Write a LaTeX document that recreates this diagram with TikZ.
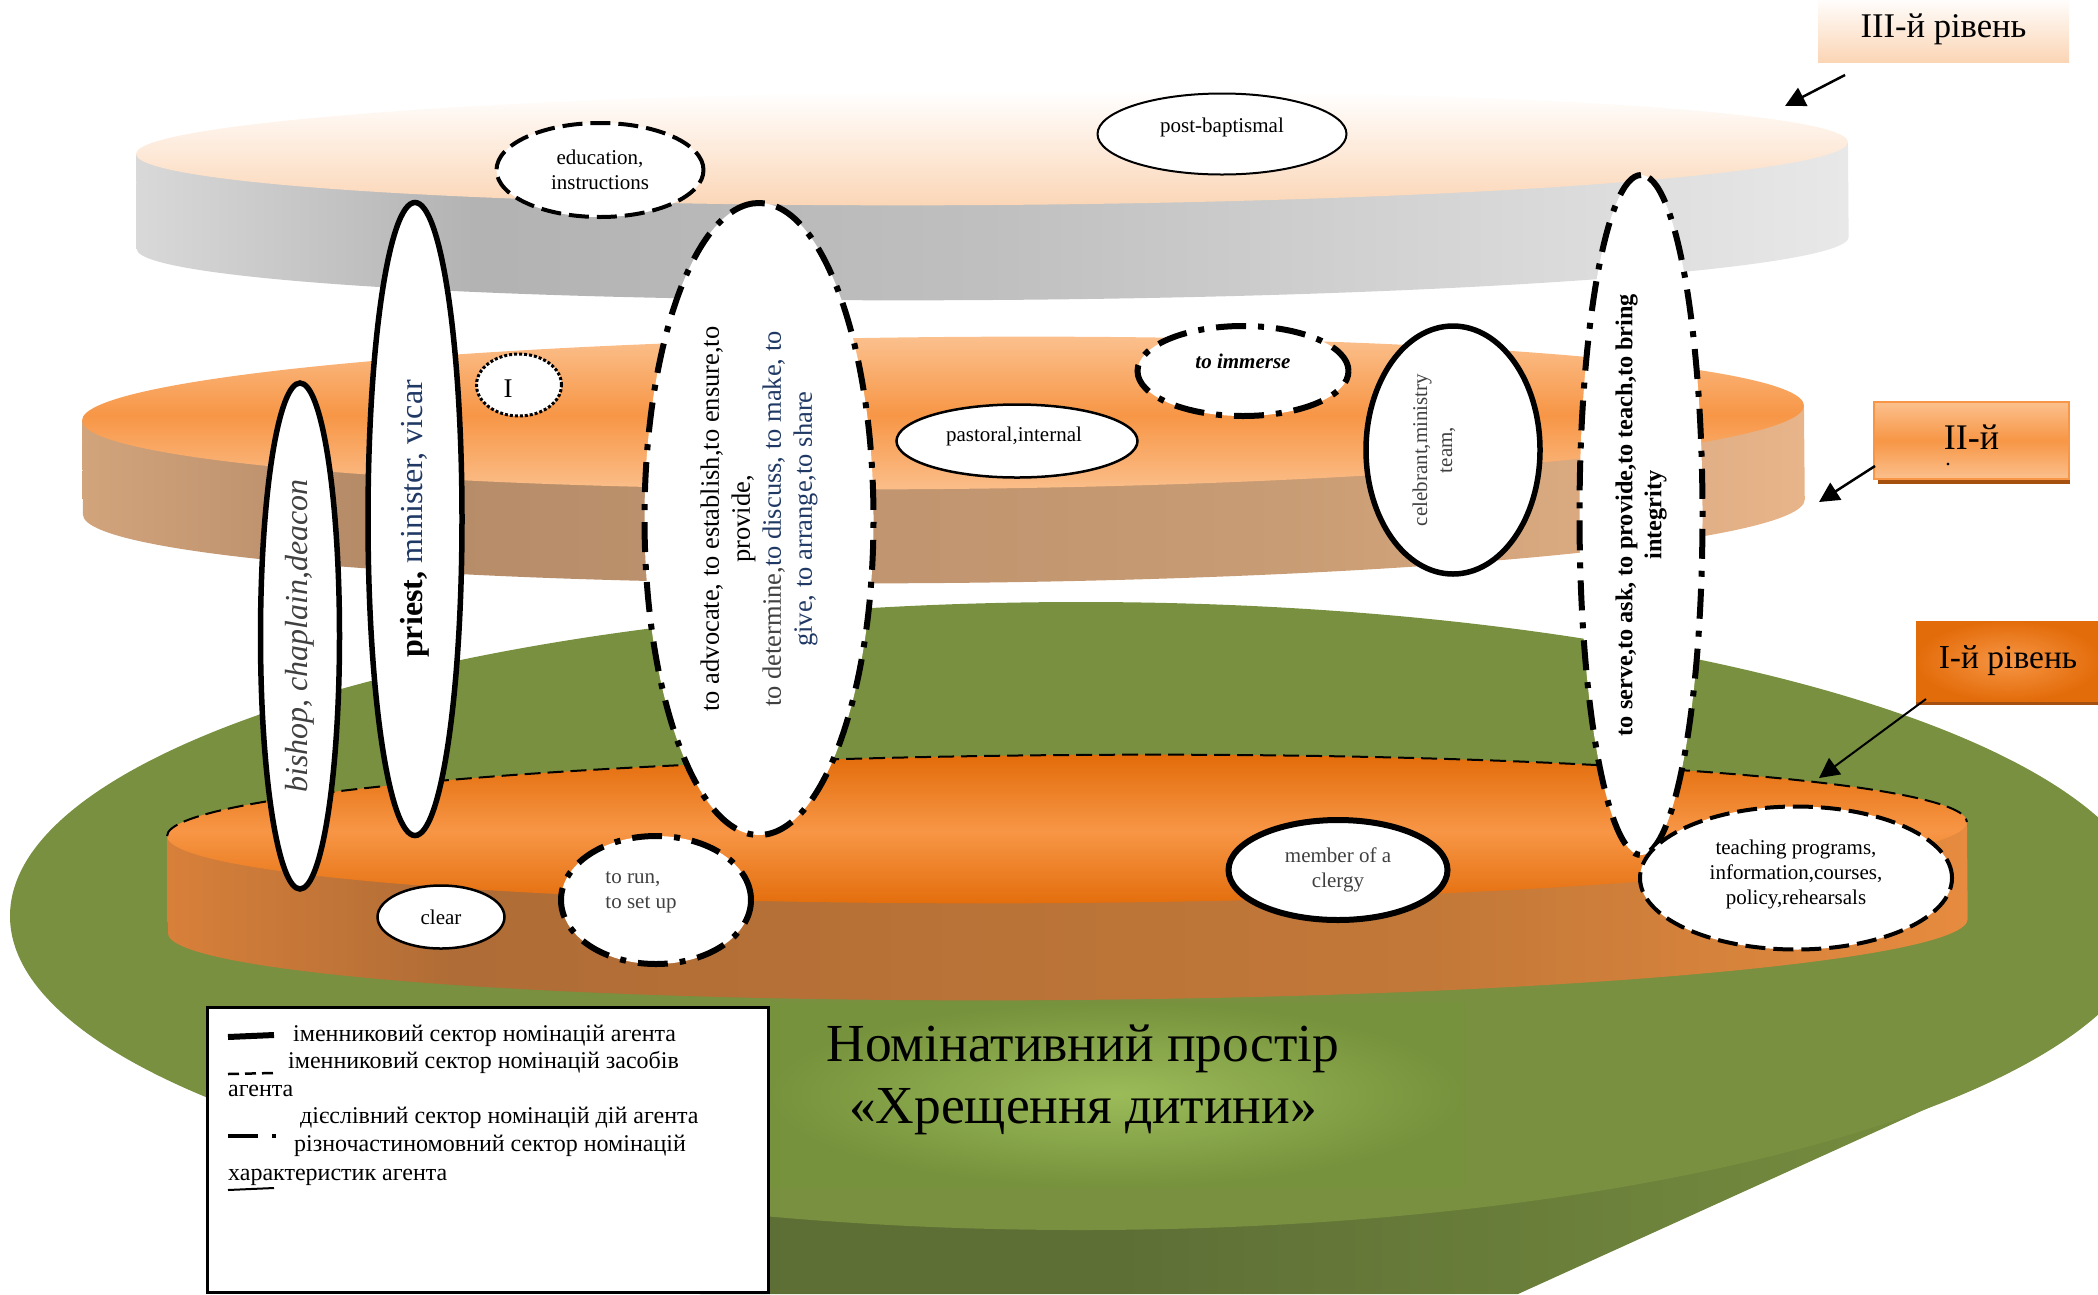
\documentclass[tikz,border=0pt]{standalone}
\usepackage{fontspec}
\setmainfont{Liberation Serif}
\usetikzlibrary{arrows.meta,shapes.geometric}
\definecolor{Leaf}{HTML}{78903F}
\definecolor{LeafGlow}{HTML}{9BBB59}
\definecolor{LeafEdge}{HTML}{76923C}
\definecolor{LeafDark}{HTML}{5E6F36}
\definecolor{Peach}{HTML}{FBD5B5}
\definecolor{Apricot}{HTML}{FBC08D}
\definecolor{Amber}{HTML}{F79646}
\definecolor{Rust}{HTML}{E36C0A}
\definecolor{RustDark}{HTML}{A5500F}
\definecolor{Navy}{HTML}{1F3864}
\definecolor{Slate}{HTML}{404040}
\definecolor{TanLeft}{HTML}{D2A47C}
\definecolor{TanDeep}{HTML}{B58B68}
\definecolor{TanMid}{HTML}{C89C74}
\definecolor{TanRight}{HTML}{E8B48A}
\definecolor{ClayLeft}{HTML}{D8803A}
\definecolor{ClayDeep}{HTML}{AF6C36}
\definecolor{ClayMid}{HTML}{C27838}
\definecolor{ClayRight}{HTML}{E68B3F}
\pgfdeclarehorizontalshading{sideTop}{100bp}{color(0bp)=(black!15); color(25bp)=(black!15); color(35bp)=(black!30); color(50bp)=(black!25); color(75bp)=(black!9); color(100bp)=(black!9)}
\pgfdeclarehorizontalshading{sideMid}{100bp}{color(0bp)=(TanLeft); color(25bp)=(TanLeft); color(33bp)=(TanDeep); color(60bp)=(TanMid); color(75bp)=(TanRight); color(100bp)=(TanRight)}
\pgfdeclarehorizontalshading{sideLow}{100bp}{color(0bp)=(ClayLeft); color(25bp)=(ClayLeft); color(33bp)=(ClayDeep); color(60bp)=(ClayMid); color(75bp)=(ClayRight); color(100bp)=(ClayRight)}
\tikzset{
  oval/.style={ellipse,fill=white,inner sep=0pt,align=center,font=\fontsize{21}{25}\selectfont},
  agentoval/.style={oval,draw,line width=5.5pt},
  meansoval/.style={oval,draw,line width=4pt,dash pattern=on 20pt off 8pt},
  actionoval/.style={oval,draw,line width=6pt,dash pattern=on 30pt off 12pt on 6pt off 12pt},
  traitoval/.style={oval,draw,line width=2.5pt},
  levelbox/.style={inner sep=0pt,font=\fontsize{36}{40}\selectfont},
  levelarrow/.style={-{Triangle[length=20pt,width=20pt]},line width=2.5pt},
  legendtext/.style={anchor=base west,inner sep=0pt,font=\fontsize{24}{28}\selectfont},
}
\begin{document}
\begin{tikzpicture}[x=1pt,y=-1pt]
  \useasboundingbox (0,0) rectangle (2098,1294);

  \shade[left color=LeafDark,right color=Leaf!90!LeafDark,middle color=LeafDark] (300,1090) -- (700,1294) -- (1518,1294) -- (1939,1103) -- cycle;
  \fill[Leaf] (1081,916) ellipse (1071 and 314);
  \shade[inner color=LeafGlow,outer color=LeafEdge] (768,1002) rectangle (1464,1187);

  \begin{scope}[rotate around={0.45:(1067,829)}]
    \shade[shading=sideLow] (167,829) -- (167,926) arc (180:0:900 and 74) -- (1967,829) -- cycle;
    \shade[top color=Rust,bottom color=Rust,middle color=Amber] (1067,829) ellipse (900 and 74);
    \draw[line width=2pt,dash pattern=on 16pt off 7pt] (167,829) arc (180:360:900 and 74);
  \end{scope}
  \begin{scope}[rotate around={0.5:(943,413)}]
    \shade[shading=sideMid] (82,413) -- (82,507) arc (180:0:861 and 76) -- (1804,413) -- cycle;
    \shade[top color=Apricot,bottom color=Apricot,middle color=Amber] (943,413) ellipse (861 and 76);
  \end{scope}
  \begin{scope}[rotate around={0.4:(992,148)}]
    \shade[shading=sideTop] (136,148) -- (136,243) arc (180:0:856 and 57) -- (1848,148) -- cycle;
    \shade[top color=white,bottom color=Peach] (992,148) ellipse (856 and 57);
  \end{scope}

  \node[meansoval,minimum width=207pt,minimum height=94pt] (education) at (600,170) {education,\\instructions};
  \node[traitoval,line width=2pt,minimum width=249pt,minimum height=81pt] (postbaptismal) at (1222,134) {};
  \node[oval,fill=none] (postbaptismaltext) at (1222,127) {post-baptismal};
  \node[actionoval,rotate=90,minimum width=632pt,minimum height=229pt,font=\fontsize{26.5}{31}\selectfont] (advocate) at (759,519) {to advocate, to establish,to ensure,to\\provide,\\\textcolor{Slate}{to determine,}\textcolor{Navy}{to discuss, to make, to}\\\textcolor{Navy}{give, to arrange,to share}};
  \node[actionoval,rotate=90,minimum width=680pt,minimum height=123pt,font=\fontsize{24.3}{29}\selectfont\bfseries] (serve) at (1641,515) {to serve,to ask, to provide,to teach,to bring\\integrity};
  \node[agentoval,rotate=90,minimum width=506pt,minimum height=79pt,text=Slate,font=\fontsize{32}{38}\selectfont\itshape] (bishop) at (300,636) {bishop, chaplain,deacon};
  \node[agentoval,rotate=90,minimum width=633pt,minimum height=94pt,font=\fontsize{32}{38}\selectfont] (priest) at (415,519) {\textbf{priest,} \textcolor{Navy}{minister, vicar}};
  \node[oval,draw,line width=3pt,dotted,minimum width=85pt,minimum height=62pt] (markone) at (519,385) {};
  \node[oval,fill=none,font=\fontsize{27}{30}\selectfont] (markonetext) at (508,389) {I};
  \node[traitoval,minimum width=241pt,minimum height=73pt] (pastoral) at (1017,441) {};
  \node[oval,fill=none] (pastoraltext) at (1014,436) {pastoral,internal};
  \node[actionoval,minimum width=211pt,minimum height=90pt] (immerse) at (1243,371) {};
  \node[oval,fill=none,font=\fontsize{21}{25}\selectfont\bfseries\itshape] (immersetext) at (1243,361) {to immerse};
  \node[agentoval,rotate=90,minimum width=248pt,minimum height=174pt] (celebrant) at (1453,450) {};
  \node[oval,fill=none,rotate=90,text=Slate] (celebranttext) at (1434,450) {celebrant,ministry\\team,};
  \node[traitoval,minimum width=127pt,minimum height=63pt] (clear) at (441,917) {clear};
  \node[actionoval,minimum width=190pt,minimum height=128pt] (run) at (656,900) {};
  \node[oval,fill=none,align=left,text=Slate] (runtext) at (641,892) {to run,\\to set up};
  \node[agentoval,line width=6pt,minimum width=219pt,minimum height=100pt,text=Slate] (member) at (1338,870) {member of a\\clergy};
  \node[meansoval,minimum width=312pt,minimum height=143pt] (teaching) at (1796,878) {};
  \node[oval,fill=none] (teachingtext) at (1796,874) {teaching programs,\\information,courses,\\policy,rehearsals};

  \node[levelbox,top color=white,bottom color=Peach,font=\fontsize{34.6}{40}\selectfont,minimum width=251pt,minimum height=65pt] (levelthree) at (1943.5,29.5) {ІІІ-й рівень};
  \fill[RustDark] (1878,412) rectangle (2070,484);
  \node[levelbox,draw=Amber,line width=2pt,top color=Apricot,bottom color=Apricot,middle color=Amber,text depth=6pt,minimum width=195pt,minimum height=77pt] (leveltwo) at (1971.5,440.5) {ІІ-й};
  \node[levelbox,font=\fontsize{22}{26}\selectfont] (leveltwodot) at (1948,465) {.};
  \fill[RustDark] (1916,690) rectangle (2098,705);
  \node[levelbox,inner color=Amber,outer color=Rust,font=\fontsize{33.5}{38}\selectfont,minimum width=184pt,minimum height=80pt] (levelone) at (2008,661) {І-й рівень};

  \coordinate (tailthree) at (1845,75);
  \coordinate (tipthree) at (1785,106);
  \coordinate (tailtwo) at (1875,466);
  \coordinate (tiptwo) at (1819,502);
  \coordinate (tailone) at (1926,699);
  \coordinate (tipone) at (1819,778);
  \draw[levelarrow] (tailthree) -- (tipthree);
  \draw[levelarrow] (tailtwo) -- (tiptwo);
  \draw[levelarrow,line width=2pt] (tailone) -- (tipone);

  \node[draw,fill=white,line width=3pt,minimum width=561pt,minimum height=285pt,inner sep=0pt] (legend) at (487.5,1150) {};
  \draw[line width=6pt] (228,1037) -- (274,1035);
  \draw[line width=2.5pt,dash pattern=on 11pt off 6pt] (228,1074) -- (274,1073);
  \draw[line width=4pt,dash pattern=on 30pt off 14pt on 4pt off 10pt] (228,1136) -- (276,1136);
  \draw[line width=2pt] (228,1190) -- (274,1188);
  \node[legendtext] (legendone) at (293,1041) {іменниковий сектор номінацій агента};
  \node[legendtext] (legendtwo) at (288,1068) {іменниковий сектор номінацій засобів};
  \node[legendtext] (legendthree) at (228,1096) {агента};
  \node[legendtext] (legendfour) at (300,1123) {дієслівний сектор номінацій дій агента};
  \node[legendtext] (legendfive) at (294,1151) {різночастиномовний сектор номінацій};
  \node[legendtext] (legendsix) at (228,1180) {характеристик агента};

  \node[anchor=base,inner sep=0pt,font=\fontsize{53.5}{60}\selectfont] (titleone) at (1083,1061) {Номінативний простір};
  \node[anchor=base,inner sep=0pt,font=\fontsize{53.5}{60}\selectfont] (titletwo) at (1083,1123) {«Хрещення дитини»};
\end{tikzpicture}
\end{document}
